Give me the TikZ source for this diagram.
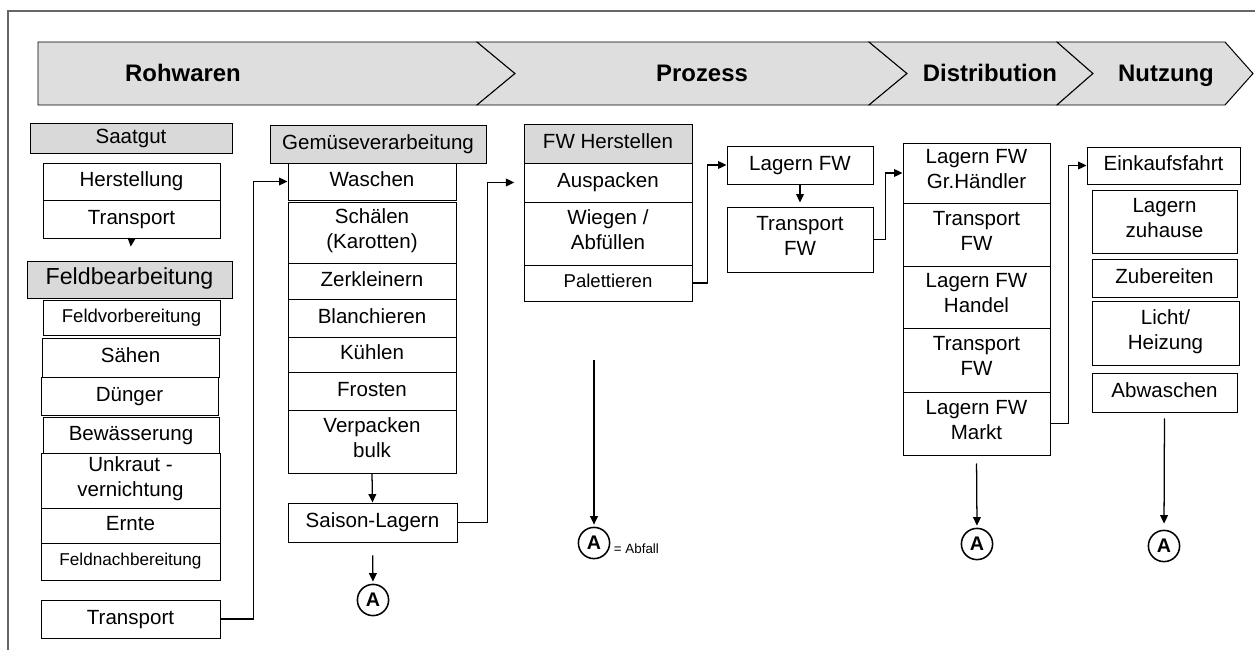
\documentclass[tikz,border=0pt]{standalone}
\usepackage{fontspec}
\setmainfont{Liberation Sans}
\usetikzlibrary{positioning}
\usetikzlibrary{arrows.meta}
\definecolor{BannerGray}{gray}{0.87}
\definecolor{HeadGray}{gray}{0.85}
\definecolor{FrameGray}{gray}{0.4}
\tikzset{StepStyle/.style={draw, line width=0.7pt, inner sep=0pt, align=center, execute at begin node=\strut, execute at end node=\strut, font=\fontsize{14.6}{17.8}\selectfont}}
\tikzset{HeadStyle/.style={fill=HeadGray}}
\tikzset{SmallStyle/.style={font=\fontsize{13.2}{16}\selectfont}}
\tikzset{WasteStyle/.style={draw, circle, line width=1.1pt, minimum size=0.78cm, inner sep=0pt, font=\bfseries\fontsize{14}{14}\selectfont}}
\tikzset{FlowStyle/.style={line width=0.9pt, -{Triangle[length=6pt,width=5.5pt]}}}
\tikzset{PhaseStyle/.style={anchor=base, font=\bfseries\fontsize{17}{17}\selectfont}}
\newcommand{\StepBox}[7][]{\node[StepStyle, #1, minimum width={(#5-#3)*0.025cm}, minimum height={(#6-#4)*0.025cm}] (#2) at ({(#3+#5)/2},{(#4+#6)/2}) {#7};}

\begin{document}
\begin{tikzpicture}[x=0.025cm, y=-0.025cm]
        \useasboundingbox (0,0) rectangle (1255,650);
        \draw[FrameGray, line width=1.2pt] (8,650) -- (8,11) -- (1255,11);
        \filldraw[fill=BannerGray, line width=0.7pt] (38,42) -- (477,42) -- (515,73.5) -- (477,105) -- (38,105) -- cycle;
        \filldraw[fill=BannerGray, line width=0.7pt] (477,42) -- (869,42) -- (907,73.5) -- (869,105) -- (477,105) -- (515,73.5) -- cycle;
        \filldraw[fill=BannerGray, line width=0.7pt] (869,42) -- (1057,42) -- (1093,73.5) -- (1057,105) -- (869,105) -- (907,73.5) -- cycle;
        \filldraw[fill=BannerGray, line width=0.7pt] (1057,42) -- (1225,42) -- (1253,73.5) -- (1225,105) -- (1057,105) -- (1093,73.5) -- cycle;
        \node[PhaseStyle] (rohwaren) at (183,81.5) {Rohwaren};
        \node[PhaseStyle] (prozess) at (702,81.5) {Prozess};
        \node[PhaseStyle] (distribution) at (990,81.5) {Distribution};
        \node[PhaseStyle] (nutzung) at (1166,81.5) {Nutzung};
        \StepBox[HeadStyle]{saatgut}{30}{123}{232}{153}{Saatgut}
        \StepBox{herstellung}{43}{163}{220}{200}{Herstellung}
        \StepBox{transporta}{43}{200}{220}{238}{Transport}
        \StepBox[HeadStyle, font=\fontsize{16.5}{19}\selectfont]{feldbearb}{27}{261}{232}{298}{Feldbearbeitung}
        \StepBox[SmallStyle]{feldvor}{43}{300}{220}{335}{Feldvorbereitung}
        \StepBox{saehen}{42}{338}{219}{377}{Sähen}
        \StepBox{duenger}{41}{377}{218}{415}{Dünger}
        \StepBox{bewaesserung}{43}{417}{219}{453}{Bewässerung}
        \StepBox{unkraut}{41}{453}{220}{508}{Unkraut -\\vernichtung}
        \StepBox{ernte}{41}{508}{220}{543}{Ernte}
        \StepBox[font=\fontsize{12.2}{14}\selectfont]{feldnach}{41}{543}{220}{580}{Feldnachbereitung}
        \StepBox{transportb}{41}{600}{220}{638}{Transport}
        \StepBox[HeadStyle]{gemuese}{270}{125}{486}{163}{Gemüseverarbeitung}
        \StepBox{waschen}{288}{163}{456}{200}{Waschen}
        \StepBox{schaelen}{288}{202}{456}{263}{Schälen\\(Karotten)}
        \StepBox{zerkleinern}{288}{263}{456}{299}{Zerkleinern}
        \StepBox{blanchieren}{288}{299}{456}{337}{Blanchieren}
        \StepBox{kuehlen}{288}{337}{456}{372}{Kühlen}
        \StepBox{frosten}{288}{372}{456}{410}{Frosten}
        \StepBox{verpacken}{288}{410}{456}{473}{Verpacken\\bulk}
        \StepBox{saison}{288}{503}{457}{542}{Saison-Lagern}
        \StepBox[HeadStyle]{fwherst}{524}{124}{692}{163}{FW Herstellen}
        \StepBox{auspacken}{524}{163}{692}{202}{Auspacken}
        \StepBox{wiegen}{524}{202}{692}{265}{Wiegen /\\Abfüllen}
        \StepBox[SmallStyle]{palett}{524}{265}{692}{301}{Palettieren}
        \StepBox{lagernfw}{727}{146}{873}{184}{Lagern FW}
        \StepBox{transfwa}{727}{207}{873}{272}{Transport\\FW}
        \StepBox{grhaendler}{903}{143}{1050}{203}{Lagern FW\\Gr.Händler}
        \StepBox{transfwb}{903}{203}{1050}{266}{Transport\\FW}
        \StepBox{handel}{903}{266}{1050}{328}{Lagern FW\\Handel}
        \StepBox{transfwc}{903}{328}{1050}{392}{Transport\\FW}
        \StepBox{markt}{903}{392}{1050}{455}{Lagern FW\\Markt}
        \StepBox{einkauf}{1087}{147}{1240}{184}{Einkaufsfahrt}
        \StepBox{zuhause}{1092}{190}{1237}{253}{Lagern\\zuhause}
        \StepBox{zubereiten}{1092}{259}{1237}{297}{Zubereiten}
        \StepBox{licht}{1092}{301}{1239}{365}{Licht/\\Heizung}
        \StepBox{abwaschen}{1092}{373}{1237}{412}{Abwaschen}
        \node[WasteStyle] (agemuese) at (373,600) {A};
        \node[WasteStyle] (aprozess) at (594,543) {A};
        \node[WasteStyle] (adist) at (977,544) {A};
        \node[WasteStyle] (anutzung) at (1164,546) {A};
        \node[anchor=west, font=\fontsize{9.5}{10}\selectfont] (abfall) at (609,549) {= Abfall};
        \coordinate (pstart) at (594,360);
        \draw[FlowStyle, shorten >=3.5mm] (transporta.south) -- (feldbearb.north);
        \draw[FlowStyle] (transportb.east) -- ++(33,0) |- (waschen.west);
        \draw[FlowStyle] (verpacken.south) -- (saison.north);
        \draw[FlowStyle, shorten <=3.2mm, shorten >=0.5mm] (saison.south) -- (agemuese.north);
        \draw[FlowStyle, shorten >=2.3mm] (saison.east) -- ++(30,0) |- (auspacken.west);
        \draw[FlowStyle] (palett.east) -- ++(15,0) |- (lagernfw.west);
        \draw[FlowStyle, shorten >=1mm] (lagernfw.south) -- (transfwa.north);
        \draw[FlowStyle] (transfwa.east) -- ++(12,0) |- (grhaendler.west);
        \draw[FlowStyle] (markt.east) -- ++(18,0) |- (einkauf.west);
        \draw[FlowStyle, shorten >=0.5mm] (pstart) -- (aprozess.north);
        \draw[FlowStyle, shorten <=2mm, shorten >=0.5mm] (markt.south) -- (adist.north);
        \draw[FlowStyle, shorten <=1.5mm, shorten >=1.5mm] (abwaschen.south) -- (anutzung.north);
\end{tikzpicture}
\end{document}
